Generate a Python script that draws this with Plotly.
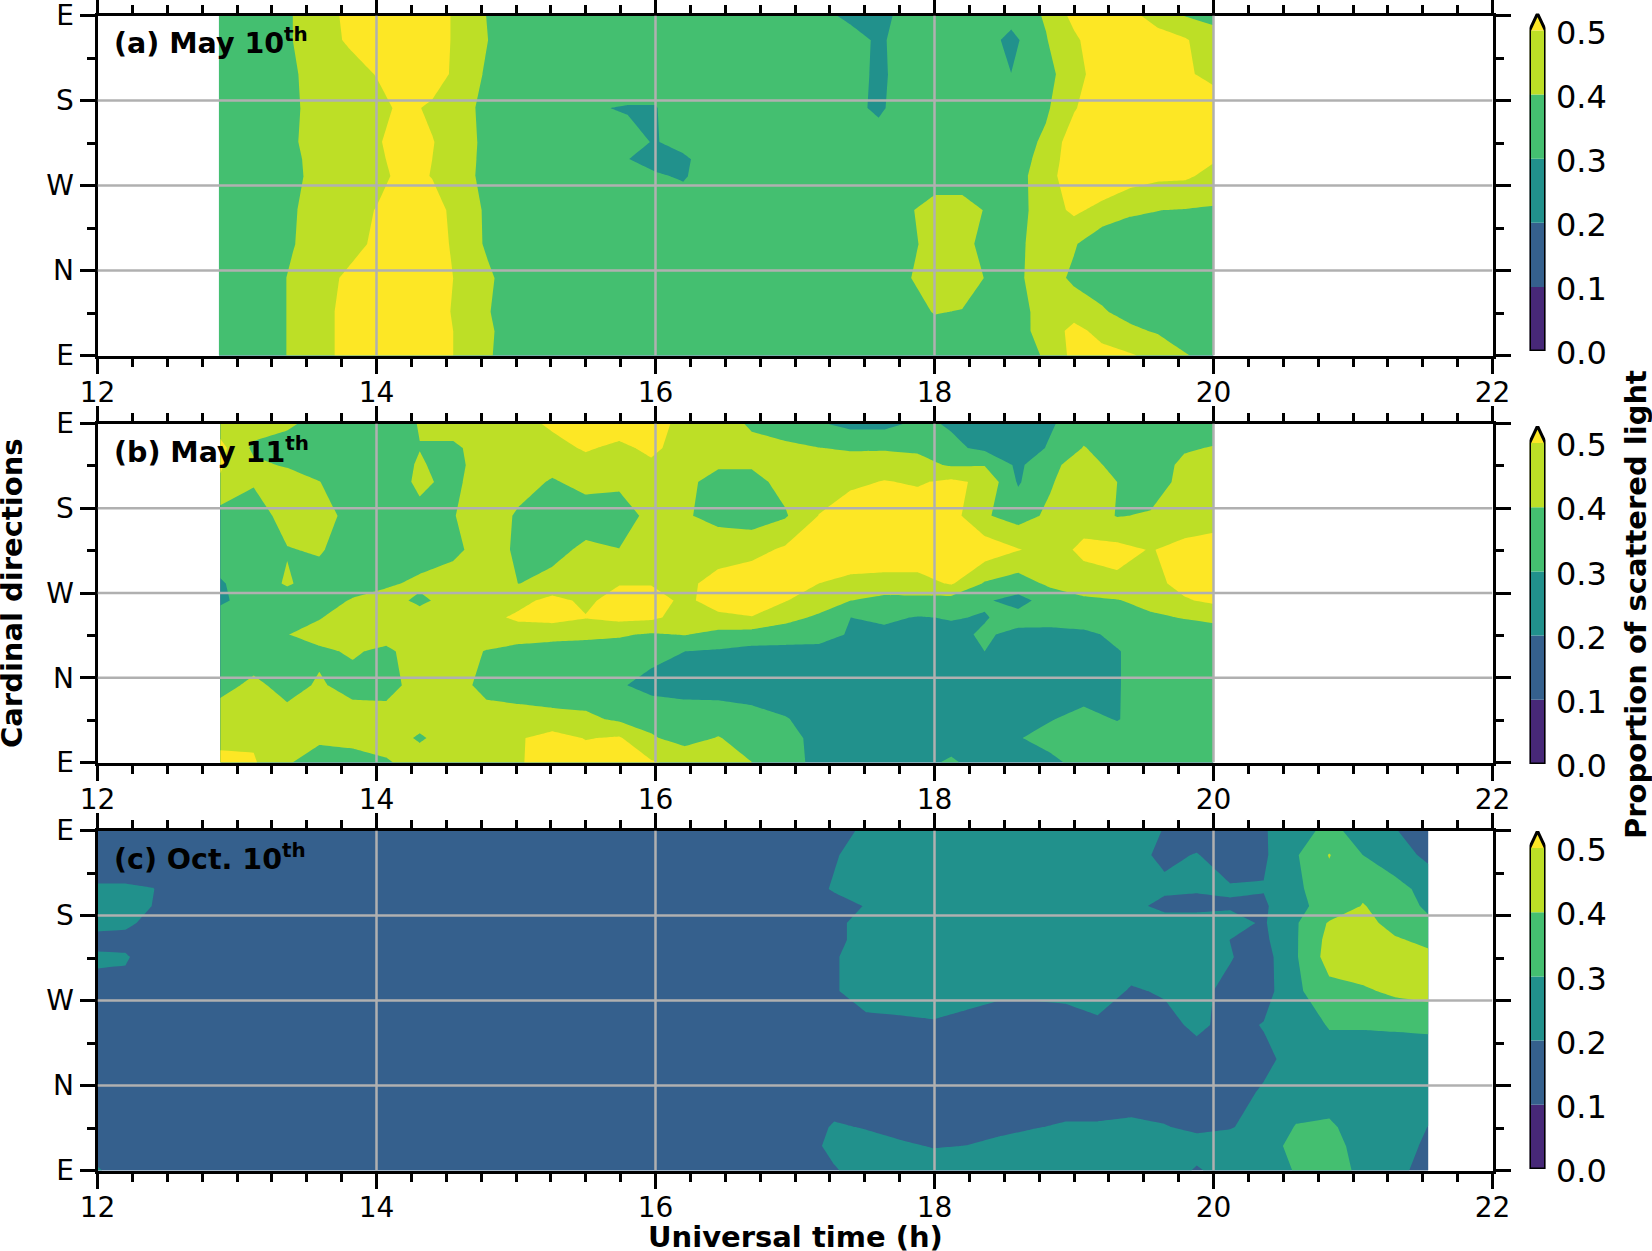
import plotly.graph_objects as go

W, H = 1652, 1251
VIRIDIS = ["#472878", "#35608d", "#21918c", "#44bf70", "#bddf26", "#fde725"]
LEVELS = [0.0, 0.1, 0.2, 0.3, 0.4, 0.5]
GRID = "#b0b0b0"
FONT = "DejaVu Sans"

x_ticks_grid = [14, 16, 18, 20]
y_ticks_grid = [90, 180, 270]
y_tick_vals = [0, 90, 180, 270, 360]
y_tick_text = ["E", "N", "W", "S", "E"]
panel_labels = ["<b>(a) May 10<sup>th</sup></b>", "<b>(b) May 11<sup>th</sup></b>", "<b>(c) Oct. 10<sup>th</sup></b>"]

# ---- panel (a)
x_a = [12.87,13.2,13.4,13.6,13.8,14.0,14.2,14.4,14.6,14.8,15.0,15.6,15.8,16.0,16.2,16.4,
       17.2,17.4,17.6,17.8,18.0,18.2,18.4,18.55,18.8,19.0,19.2,19.4,19.6,19.8,20.0]
y_a = [0,26,46,82,118,154,190,208,226,262,298,334,360]
z_a = [
 [.35,.35,.415,.45,.55,.57,.57,.575,.475,.41,.35, .35,.35,.35,.35,.35, .35,.35,.35,.35,.35,.35,.35,.35, .41,.53,.53,.51,.47,.405,.37],
 [.35,.35,.415,.45,.55,.57,.57,.575,.475,.415,.35, .35,.35,.35,.35,.35, .35,.35,.35,.35,.37,.37,.35,.35, .44,.53,.47,.42,.39,.36,.35],
 [.35,.35,.415,.45,.55,.57,.57,.565,.465,.405,.35, .35,.35,.35,.35,.35, .35,.35,.35,.36,.405,.395,.35,.345, .445,.46,.41,.37,.35,.35,.35],
 [.35,.35,.415,.45,.525,.57,.57,.575,.475,.415,.35, .35,.35,.35,.35,.35, .35,.35,.35,.39,.45,.45,.385,.37, .45,.38,.36,.35,.35,.35,.35],
 [.35,.35,.395,.45,.45,.525,.57,.56,.46,.385,.35, .35,.35,.35,.35,.35, .35,.35,.35,.37,.44,.43,.36,.365, .45,.41,.33,.36,.37,.37,.36],
 [.35,.35,.39,.45,.45,.505,.56,.55,.45,.385,.35, .35,.35,.35,.35,.35, .35,.35,.35,.385,.44,.44,.385,.35, .45,.52,.47,.41,.401,.396,.39],
 [.35,.35,.375,.44,.45,.455,.545,.495,.43,.375,.35, .35,.36,.31,.29,.35, .35,.35,.35,.35,.35,.35,.35,.345, .46,.56,.58,.55,.52,.515,.47],
 [.35,.35,.38,.44,.45,.47,.56,.50,.435,.375,.35, .35,.302,.27,.285,.34, .35,.35,.35,.35,.35,.35,.35,.34, .44,.56,.585,.57,.555,.55,.51],
 [.35,.35,.39,.44,.45,.48,.58,.505,.44,.375,.35, .35,.32,.295,.33,.35, .35,.35,.35,.35,.35,.35,.35,.34, .42,.56,.59,.59,.59,.59,.55],
 [.35,.35,.385,.44,.45,.46,.53,.48,.43,.375,.35, .303,.295,.295,.36,.35, .35,.33,.28,.36,.35,.35,.35,.35, .385,.49,.58,.58,.58,.58,.58],
 [.35,.35,.39,.44,.45,.505,.57,.56,.46,.385,.35, .35,.35,.35,.35,.35, .35,.34,.28,.34,.35,.35,.35,.301, .37,.455,.56,.58,.58,.52,.46],
 [.35,.35,.40,.45,.515,.57,.57,.565,.465,.40,.35, .35,.35,.35,.35,.35, .35,.35,.28,.35,.35,.35,.33,.27, .395,.48,.57,.57,.56,.51,.43],
 [.35,.35,.40,.45,.525,.57,.57,.565,.465,.395,.35, .35,.35,.35,.35,.35, .33,.27,.26,.34,.35,.35,.35,.34, .41,.53,.56,.54,.44,.395,.38],
]

# ---- panel (b)
x_b = [12.88,13.12,13.36,13.59,13.83,14.07,14.31,14.55,14.79,15.02,15.26,15.50,15.74,15.97,16.21,16.45,
       16.69,16.93,17.17,17.40,17.64,17.88,18.12,18.36,18.60,18.83,19.07,19.31,19.55,19.79,20.0]
y_b = [0,26,46,82,118,136,154,172,190,226,262,298,316,334,360]
z_b = [
 [.53,.51,.41,.35,.36,.39,.44,.45,.46,.49,.55,.55,.55,.51,.47,.43,.401,.33,.28,.27,.27,.28,.31,.27,.27,.28,.33,.35,.35,.35,.35],
 [.47,.485,.44,.42,.43,.44,.39,.44,.46,.49,.54,.495,.51,.41,.365,.405,.36,.335,.27,.26,.26,.27,.27,.27,.295,.33,.35,.35,.36,.36,.36],
 [.45,.45,.43,.44,.44,.44,.43,.44,.44,.44,.43,.42,.385,.37,.355,.35,.335,.305,.27,.26,.26,.26,.26,.27,.28,.295,.33,.295,.35,.35,.36],
 [.37,.42,.37,.41,.37,.365,.44,.44,.37,.35,.34,.34,.31,.27,.26,.26,.25,.25,.25,.25,.25,.25,.25,.25,.25,.25,.25,.295,.34,.35,.35],
 [.35,.35,.36,.385,.41,.38,.45,.44,.395,.37,.36,.36,.36,.33,.30,.29,.27,.27,.27,.27,.27,.27,.27,.30,.28,.28,.27,.295,.34,.35,.35],
 [.35,.35,.398,.43,.45,.44,.46,.46,.45,.44,.43,.42,.41,.39,.405,.37,.36,.35,.34,.29,.28,.28,.28,.31,.28,.27,.28,.32,.35,.35,.36],
 [.35,.35,.35,.395,.44,.45,.44,.45,.47,.52,.535,.505,.53,.52,.46,.48,.495,.43,.385,.30,.315,.295,.305,.295,.33,.34,.35,.36,.385,.405,.42],
 [.28,.35,.35,.35,.41,.44,.38,.44,.46,.47,.53,.48,.54,.54,.48,.54,.57,.505,.45,.40,.37,.375,.36,.31,.27,.34,.38,.395,.43,.49,.52],
 [.29,.35,.41,.36,.35,.385,.42,.44,.44,.399,.43,.45,.495,.495,.48,.53,.56,.54,.50,.47,.46,.46,.51,.39,.35,.42,.46,.48,.47,.53,.55],
 [.35,.35,.395,.41,.35,.35,.35,.38,.44,.385,.37,.42,.402,.42,.45,.46,.47,.515,.55,.58,.58,.58,.58,.56,.505,.46,.52,.53,.495,.53,.54],
 [.36,.35,.44,.46,.35,.35,.38,.395,.46,.385,.35,.35,.35,.43,.41,.37,.35,.39,.502,.56,.56,.56,.54,.41,.36,.42,.46,.395,.41,.44,.46],
 [.49,.41,.45,.402,.35,.355,.415,.38,.45,.44,.39,.43,.42,.45,.42,.37,.37,.43,.46,.48,.505,.49,.52,.48,.29,.39,.47,.40,.35,.43,.45],
 [.51,.42,.39,.36,.35,.36,.408,.37,.45,.45,.43,.47,.45,.485,.44,.41,.41,.43,.44,.44,.45,.43,.39,.395,.28,.38,.44,.37,.35,.42,.43],
 [.53,.38,.35,.35,.35,.35,.398,.38,.45,.46,.47,.51,.48,.52,.46,.45,.43,.42,.402,.39,.39,.385,.32,.28,.25,.31,.405,.35,.35,.39,.405],
 [.45,.45,.42,.36,.35,.35,.405,.45,.46,.47,.515,.55,.55,.54,.47,.45,.385,.35,.31,.27,.27,.32,.29,.25,.25,.29,.35,.35,.35,.35,.35],
]

# ---- panel (c)
x_c = [12.0,12.2,12.4,12.6,17.05,17.28,17.51,17.75,17.99,18.23,18.46,18.70,18.94,19.17,19.41,19.65,19.88,20.12,20.36,20.59,20.83,21.07,21.30,21.54]
y_c = [0,26,46,82,118,154,190,226,244,262,280,298,334,360]
z_c = [
 [.21,.15,.15,.15,.15, .19,.25,.25,.25,.25,.25,.25,.25,.25,.25,.25,.19,.24,.26,.305,.32,.29,.23,.16],
 [.15,.15,.15,.15,.15, .23,.23,.215,.195,.201,.22,.24,.25,.25,.25,.25,.24,.24,.27,.32,.33,.27,.25,.18],
 [.15,.15,.15,.15,.15, .21,.195,.17,.16,.17,.18,.195,.21,.21,.22,.205,.18,.195,.23,.305,.31,.27,.26,.198],
 [.15,.15,.15,.15,.15, .15,.15,.15,.15,.15,.15,.15,.15,.15,.15,.15,.15,.17,.21,.25,.27,.27,.26,.25],
 [.15,.15,.15,.15,.15, .15,.15,.15,.15,.15,.15,.15,.15,.15,.15,.15,.16,.15,.18,.23,.27,.27,.26,.26],
 [.15,.15,.15,.15,.15, .16,.17,.18,.19,.16,.15,.15,.15,.18,.16,.17,.22,.17,.205,.26,.305,.305,.31,.315],
 [.18,.17,.15,.15,.15, .19,.25,.25,.25,.25,.22,.22,.23,.25,.19,.21,.22,.18,.16,.28,.37,.385,.42,.44],
 [.21,.21,.15,.15,.15, .19,.25,.25,.25,.25,.25,.25,.25,.25,.25,.25,.25,.205,.16,.29,.44,.47,.46,.42],
 [.18,.17,.15,.15,.15, .18,.23,.25,.25,.25,.25,.25,.25,.25,.25,.25,.25,.199,.18,.29,.43,.47,.41,.38],
 [.22,.22,.17,.15,.15, .18,.23,.25,.25,.25,.25,.25,.25,.25,.25,.25,.25,.23,.19,.29,.41,.43,.37,.32],
 [.25,.25,.197,.15,.15, .16,.205,.25,.25,.25,.25,.25,.25,.25,.23,.17,.17,.19,.185,.28,.33,.405,.36,.28],
 [.21,.21,.202,.15,.15, .21,.25,.25,.25,.25,.25,.25,.25,.25,.25,.22,.21,.21,.205,.28,.36,.38,.33,.27],
 [.15,.15,.15,.15,.15, .19,.25,.25,.25,.25,.25,.25,.25,.25,.23,.18,.205,.15,.185,.29,.405,.30,.25,.175],
 [.15,.15,.15,.15,.15, .17,.215,.25,.25,.25,.25,.25,.25,.25,.25,.195,.15,.15,.19,.27,.32,.27,.205,.15],
]

# pixel layout of the page
X0, X1 = 97.5, 1492.5
PANELS = [(15.5, 355.5), (423.5, 762.5), (830.5, 1170.5)]
CB_X = (1529.5, 1545.5)
CB_Y = [(13.5, 351), (426, 764), (831, 1169)]
TIP_PX = 17

def dom_y(top, bot):
    return [1 - bot / H, 1 - top / H]

# fill colours as plotly's contour samples them: one flat step per band
colorscale = [
    [0.0, VIRIDIS[1]], [0.25, VIRIDIS[1]],
    [0.25, VIRIDIS[2]], [0.5, VIRIDIS[2]],
    [0.5, VIRIDIS[3]], [0.75, VIRIDIS[3]],
    [0.75, VIRIDIS[4]], [0.97, VIRIDIS[4]],
    [0.97, VIRIDIS[5]], [1.0, VIRIDIS[5]],
]

fig = go.Figure()
data = [(x_a, y_a, z_a), (x_b, y_b, z_b), (x_c, y_c, z_c)]
layout = {}
shapes = []
annotations = []
for i, (x, y, z) in enumerate(data):
    n = i + 1
    s = "" if i == 0 else str(n)
    xa, ya = "x" + s, "y" + s
    fig.add_trace(go.Contour(
        x=x, y=y, z=z, xaxis=xa, yaxis=ya, showscale=False, hoverinfo="skip",
        zmin=0.05, zmax=0.55, autocontour=False, colorscale=colorscale,
        contours=dict(start=0.1, end=0.6, size=0.1, coloring="fill", showlines=False),
        line=dict(width=0, smoothing=0),
    ))
    top, bot = PANELS[i]
    layout["xaxis" + s] = dict(
        domain=[X0 / W, X1 / W], range=[12, 22], anchor=ya, tick0=12, dtick=2,
        ticks="outside", ticklen=15, tickwidth=3, tickcolor="black",
        showline=True, linewidth=3, linecolor="black", mirror="ticks", showgrid=False, zeroline=False,
        ticklabelstandoff=-5,
        minor=dict(tick0=12, dtick=0.25, ticks="outside", ticklen=8, tickwidth=2.5, tickcolor="black", showgrid=False),
        tickfont=dict(family=FONT, size=28, color="black"),
    )
    layout["yaxis" + s] = dict(
        domain=dom_y(top, bot), range=[0, 360], anchor=xa, tickmode="array",
        tickvals=y_tick_vals, ticktext=y_tick_text, ticklabeloverflow="allow",
        ticks="outside", ticklen=15, tickwidth=3, tickcolor="black",
        showline=True, linewidth=3, linecolor="black", mirror="ticks", showgrid=False, zeroline=False,
        minor=dict(tickvals=[45, 135, 225, 315], ticks="outside", ticklen=8, tickwidth=2.5, tickcolor="black", showgrid=False),
        tickfont=dict(family=FONT, size=28, color="black"),
    )
    for v in x_ticks_grid:
        shapes.append(dict(type="line", xref=xa, yref=ya, x0=v, x1=v, y0=0, y1=360,
                           line=dict(color=GRID, width=2.5), layer="above"))
    for v in y_ticks_grid:
        shapes.append(dict(type="line", xref=xa, yref=ya, x0=12, x1=22, y0=v, y1=v,
                           line=dict(color=GRID, width=2.5), layer="above"))
    annotations.append(dict(text=panel_labels[i], xref="paper", yref="paper",
                            x=112 / W, y=1 - (top + 26) / H, xanchor="left", yanchor="middle",
                            showarrow=False, font=dict(family=FONT, size=28.5, color="black")))

    # colour bar, drawn as its own small axes
    xc, yc = "x" + str(n + 3), "y" + str(n + 3)
    t, b = CB_Y[i]
    tip = 0.5 + 0.5 * (TIP_PX / (b - t - TIP_PX))
    fig.add_trace(go.Bar(x=[0.5] * 5, y=[0.1] * 5, base=LEVELS[:5], width=1,
                         marker=dict(color=VIRIDIS[:5], line=dict(width=0)),
                         xaxis=xc, yaxis=yc, hoverinfo="skip", showlegend=False))
    fig.add_trace(go.Scatter(x=[0, 0.5, 1, 0], y=[0.5, tip, 0.5, 0.5], mode="lines", fill="toself",
                             fillcolor=VIRIDIS[5], line=dict(width=0), xaxis=xc, yaxis=yc,
                             hoverinfo="skip", showlegend=False))
    fig.add_trace(go.Scatter(x=[0, 1, 1, 0.5, 0, 0], y=[0, 0, 0.5, tip, 0.5, 0], mode="lines",
                             line=dict(color="black", width=3), xaxis=xc, yaxis=yc, cliponaxis=False,
                             hoverinfo="skip", showlegend=False))
    layout["xaxis" + str(n + 3)] = dict(domain=[CB_X[0] / W, CB_X[1] / W], range=[0, 1], anchor=yc,
                                        visible=False, fixedrange=True)
    layout["yaxis" + str(n + 3)] = dict(domain=dom_y(t, b), range=[0, tip], anchor=xc, side="right",
                                        tickmode="array", tickvals=LEVELS, ticktext=["%.1f" % v for v in LEVELS],
                                        ticks="outside", ticklen=3, tickcolor="rgba(0,0,0,0)", showgrid=False,
                                        zeroline=False, showline=False, ticklabelshift=2,
                                        tickfont=dict(family=FONT, size=32, color="black"))

annotations += [
    dict(text="<b>Universal time (h)</b>", xref="paper", yref="paper", x=795 / W, y=1 - 1237 / H,
         xanchor="center", yanchor="middle", showarrow=False, font=dict(family=FONT, size=29, color="black")),
    dict(text="<b>Cardinal directions</b>", xref="paper", yref="paper", x=12 / W, y=1 - 593 / H,
         xanchor="center", yanchor="middle", textangle=-90, showarrow=False, font=dict(family=FONT, size=29, color="black")),
    dict(text="<b>Proportion of scattered light</b>", xref="paper", yref="paper", x=1636 / W, y=1 - 605 / H,
         xanchor="center", yanchor="middle", textangle=-90, showarrow=False, font=dict(family=FONT, size=29, color="black")),
]

fig.update_layout(width=W, height=H, margin=dict(l=0, r=0, t=0, b=0, autoexpand=False), paper_bgcolor="white", plot_bgcolor="white",
                  showlegend=False, shapes=shapes, annotations=annotations, barmode="overlay", **layout)
fig.write_html("out.html", config=dict(displayModeBar=False),
               post_script="document.body.style.margin='0';document.documentElement.style.overflow='hidden';")
